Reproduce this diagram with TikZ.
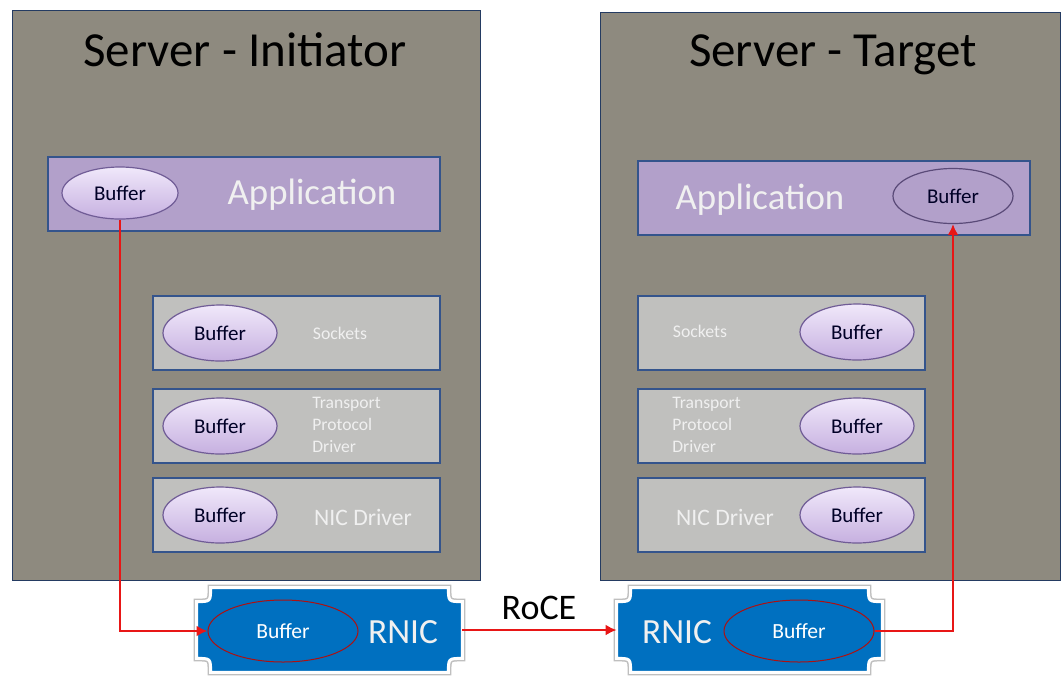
\documentclass[tikz,border=0pt]{standalone}
\usepackage{fontspec}
\setmainfont{Carlito}
\usepackage{tikz}
\usetikzlibrary{shapes.geometric, calc, positioning, arrows.meta}
\definecolor{srvgray}{RGB}{142,138,127}
\definecolor{appviolet}{RGB}{178,160,202}
\definecolor{laygray}{RGB}{192,192,190}
\definecolor{laybord}{RGB}{52,84,140}
\definecolor{bufedge}{RGB}{112,92,150}
\definecolor{bufdark}{RGB}{198,176,224}
\definecolor{buflight}{RGB}{240,232,250}
\definecolor{nicblue}{RGB}{0,112,192}
\definecolor{linkred}{RGB}{232,22,22}
\newcommand\notchbox[1]{%
  \path[fill=nicblue, draw=white, line width=1.5pt, preaction={draw=black!25, line width=3pt}]
    ($(#1.north west)+(14,0)$) -- ($(#1.north east)+(-14,0)$)
    .. controls ($(#1.north east)+(-14,14)$) .. ($(#1.north east)+(0,14)$)
    -- ($(#1.south east)+(0,-14)$)
    .. controls ($(#1.south east)+(-14,-14)$) .. ($(#1.south east)+(-14,0)$)
    -- ($(#1.south west)+(14,0)$)
    .. controls ($(#1.south west)+(14,-14)$) .. ($(#1.south west)+(0,-14)$)
    -- ($(#1.north west)+(0,14)$)
    .. controls ($(#1.north west)+(14,14)$) .. ($(#1.north west)+(14,0)$) -- cycle;}

\begin{document}
\begin{tikzpicture}[x=0.5pt, y=-0.5pt,
    server/.style={draw=laybord!70!black, line width=0.7pt, fill=srvgray, inner sep=0pt, anchor=north west},
    app/.style={draw=laybord, line width=1pt, fill=appviolet, inner sep=0pt, minimum width=196pt, minimum height=37pt},
    layer/.style={draw=laybord, line width=1pt, fill=laygray, inner sep=0pt, minimum width=143.5pt, minimum height=37pt},
    bufbase/.style={ellipse, draw=bufedge, line width=0.6pt, inner sep=0pt,
        minimum width=57pt, minimum height=28pt, text=black!85!blue, font=\fontsize{10.5}{12}\selectfont},
    buf/.style={bufbase, top color=buflight, bottom color=bufdark},
    nic/.style={inner sep=0pt, minimum width=132.5pt, minimum height=42pt},
    nicbuf/.style={ellipse, draw=linkred!75!black, line width=0.5pt, inner sep=0pt, minimum width=75pt, minimum height=31pt,
        text=white, font=\fontsize{10.8}{12}\selectfont},
    lbl/.style={text=white!94!black, inner sep=0pt},
    link/.style={draw=linkred, line width=1.3pt, -{Latex[length=5.5pt, width=5.5pt]}}]
    \useasboundingbox (0,0) rectangle (1062,677);
    \node[server, minimum width=234pt, minimum height=285pt] (si) at (12,10) {};
    \node[server, minimum width=230pt, minimum height=284pt] (st) at (600,12) {};
    \node[font=\fontsize{24.5}{28}\selectfont] (ti) at (245,50) {Server - Initiator};
    \node[font=\fontsize{24.5}{28}\selectfont] (tt) at (833,55) {Server - Target};

    \node[app] (apI) at (243.5,193.5) {};
    \node[buf, minimum width=58pt, minimum height=26pt] (bA) at (120,193) {Buffer};
    \node[lbl, font=\fontsize{18.4}{22}\selectfont] (aI) at (312,195) {Application};
    \node[layer] (sI) at (296.5,333) {};
    \node[layer] (pI) at (296.5,426) {};
    \node[layer] (dI) at (296.5,514.5) {};
    \node[buf] (b1) at (220,333) {Buffer};
    \node[buf] (b2) at (220,426) {Buffer};
    \node[buf] (b3) at (220,515) {Buffer};
    \node[lbl, font=\fontsize{8.9}{11}\selectfont] (lsI) at (340,333) {Sockets};
    \node[lbl, font=\fontsize{8.8}{11}\selectfont, align=left, anchor=west] (lpI) at (312,425) {Transport\\Protocol\\Driver};
    \node[lbl, font=\fontsize{11.8}{14}\selectfont] (ldI) at (363,517) {NIC Driver};

    \node[app] (apT) at (834,197.5) {};
    \node[bufbase, fill=appviolet, draw=bufedge!80!black, minimum width=60pt, minimum height=27.5pt] (bB) at (953,196) {Buffer};
    \node[lbl, font=\fontsize{18.4}{22}\selectfont] (aT) at (760,200) {Application};
    \node[layer] (sT) at (781.5,332.5) {};
    \node[layer] (pT) at (781.5,425.5) {};
    \node[layer] (dT) at (781.5,515) {};
    \node[buf] (b4) at (857,332) {Buffer};
    \node[buf] (b5) at (857,426) {Buffer};
    \node[buf] (b6) at (857,515) {Buffer};
    \node[lbl, font=\fontsize{8.9}{11}\selectfont] (lsT) at (700,331) {Sockets};
    \node[lbl, font=\fontsize{8.8}{11}\selectfont, align=left, anchor=west] (lpT) at (672,425) {Transport\\Protocol\\Driver};
    \node[lbl, font=\fontsize{11.8}{14}\selectfont] (ldT) at (725,517) {NIC Driver};

    \node[nic] (nL) at (329.5,630) {};
    \notchbox{nL}
    \node[nicbuf] (nbL) at (283,631) {Buffer};
    \node[lbl, font=\fontsize{17.7}{20}\selectfont] (rL) at (403,632) {RNIC};
    \node[nic] (nR) at (749.5,630) {};
    \notchbox{nR}
    \node[nicbuf] (nbR) at (799,631) {Buffer};
    \node[lbl, font=\fontsize{17.7}{20}\selectfont] (rR) at (677,632) {RNIC};
    \node[font=\fontsize{18}{20}\selectfont] (roce) at (539,608) {RoCE};

    \draw[link] (bA.south) |- (nbL.west);
    \draw[link] (nL.east) -- (nR.west);
    \draw[link] (nbR.east) -| (bB.south);
\end{tikzpicture}
\end{document}
